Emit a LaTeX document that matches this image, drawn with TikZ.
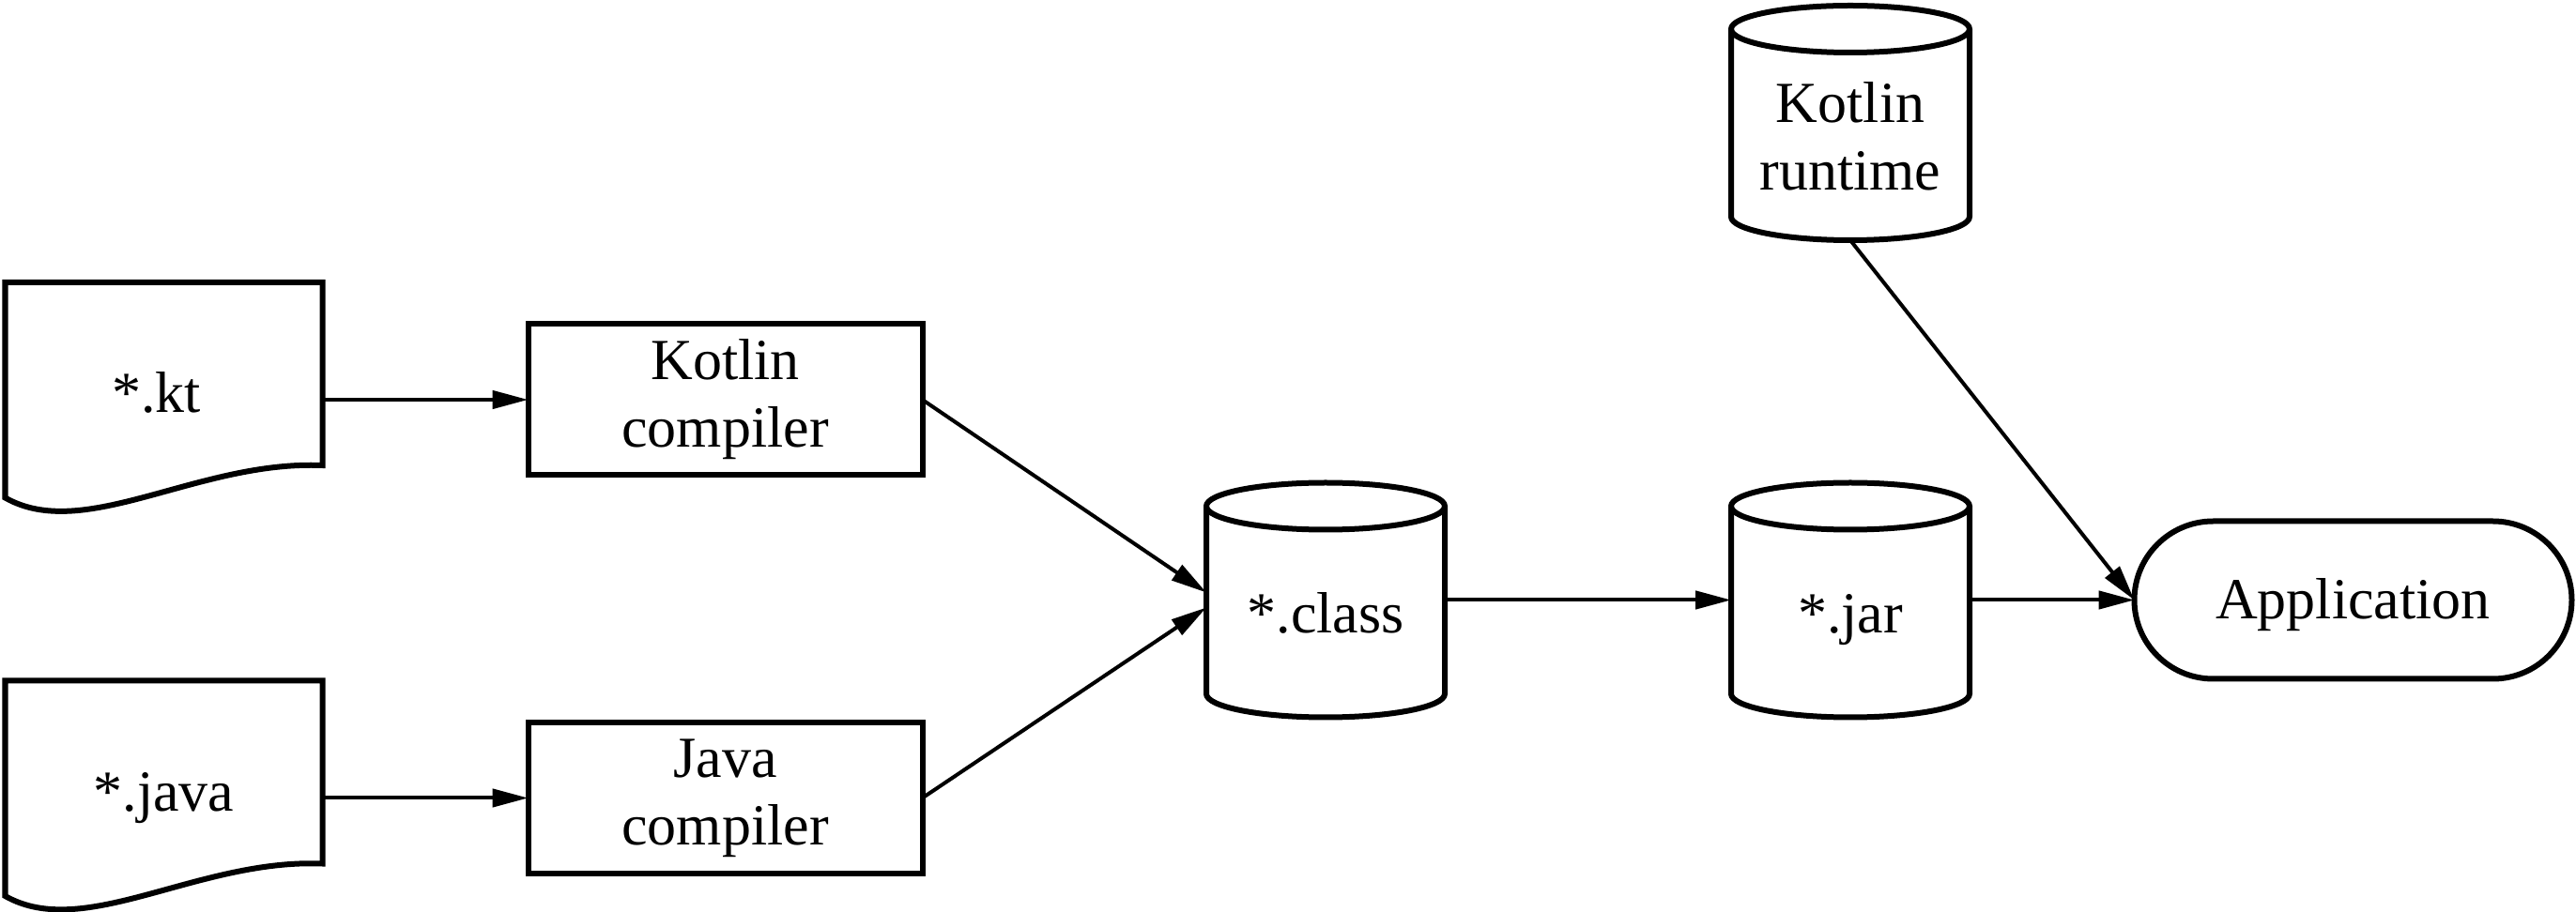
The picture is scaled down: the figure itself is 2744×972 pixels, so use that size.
\documentclass[tikz,border=0pt]{standalone}
\usepackage{fontspec}
\setmainfont{Liberation Serif}
\usetikzlibrary{arrows.meta,calc,shapes.misc}

% vertical cylinder drawn around a (borderless) node
\newcommand\drawcyl[1]{%
  \draw[outline] ($(#1.north west)+(0,-25)$) -- ($(#1.south west)+(0,25)$)
    arc[start angle=180,end angle=360,x radius=127,y radius=25]
    -- ($(#1.north east)+(0,-25)$)
    arc[start angle=0,end angle=180,x radius=127,y radius=25] -- cycle;
  \draw[outline] ($(#1.north west)+(0,-25)$)
    arc[start angle=180,end angle=360,x radius=127,y radius=25];}

% document symbol with a wavy lower edge
\newcommand\drawdoc[1]{%
  \draw[outline] (#1.north west) -- (#1.north east) -- ($(#1.north east)+(0,-195)$)
    .. controls ($(#1.north east)+(-133.5,-189.5)$) and ($(#1.north west)+(84.5,-277.5)$)
    .. ($(#1.north west)+(0,-229.5)$) -- cycle;}

\begin{document}
\begin{tikzpicture}[x=0.25pt,y=0.25pt,
  outline/.style={draw=black,line width=1.5pt},
  conn/.style={draw=black,line width=1pt,-{Triangle[length=9.5pt,width=4.8pt]}},
  every node/.style={inner sep=0pt,outer sep=0pt,font=\fontsize{15.5}{18}\selectfont},
  docnode/.style={minimum width=84.5pt,minimum height=62.5pt,text height=6.75pt,text depth=0pt},
  procbox/.style={outline,rectangle,minimum width=105pt,minimum height=40.25pt,align=center},
  cylnode/.style={minimum width=63.5pt,minimum height=62.5pt,text height=17.75pt,text depth=0pt},
  appnode/.style={outline,rounded rectangle,minimum width=116.5pt,minimum height=42pt,
    text height=10.25pt,text depth=0pt}]

\fill[white] (0,0) rectangle (2744,-972);
\useasboundingbox (0,0) rectangle (2744,-972);

% sources
\node[docnode] (kt)   at (174.5,-426)   {*.kt\kern4pt};
\node[docnode] (java) at (174.5,-850.5) {*.java};
\drawdoc{kt}
\drawdoc{java}

% compilers
\node[procbox] (kc) at (772.5,-426)   {Kotlin\\compiler};
\node[procbox] (jc) at (772.5,-850.5) {Java\\compiler};

% stores
\node[cylnode] (cls) at (1412,-639.5) {*.class};
\node[cylnode] (jar) at (1971,-639.5) {*.jar};
\node[cylnode,text height=36pt] (rt) at (1971,-131)
  {\begin{tabular}[b]{@{}c@{}}Kotlin\\runtime\end{tabular}};
\drawcyl{cls}
\drawcyl{jar}
\drawcyl{rt}

% result
\node[appnode] (app) at (2506.5,-639.5) {Application};

% connectors
\draw[conn] (kt.east) -- (kc.west);
\draw[conn] (java.east) -- (jc.west);
\draw[conn] (kc.east) -- ($(cls.west)+(0,8)$);
\draw[conn] (jc.east) -- ($(cls.west)+(0,-8)$);
\draw[conn] (cls.east) -- (jar.west);
\draw[conn] (jar.east) -- (app.west);
\draw[conn] (rt.south) -- (app.west);
\end{tikzpicture}
\end{document}
